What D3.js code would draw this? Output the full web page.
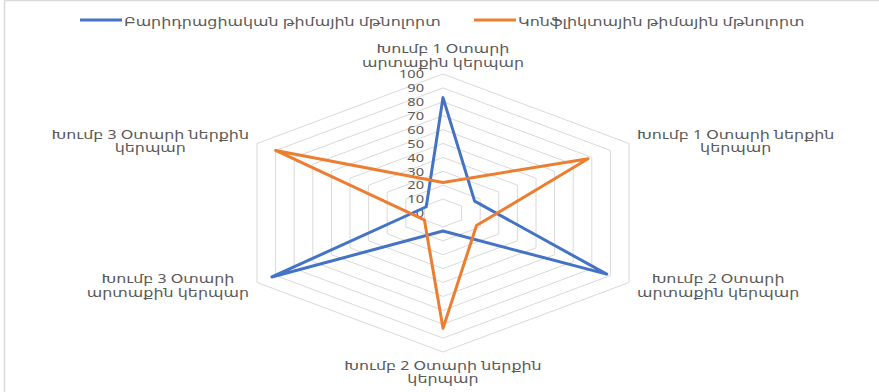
<!DOCTYPE html>
<html><head><meta charset="utf-8">
<script src="https://cdn.jsdelivr.net/npm/d3@7"></script>
<style>html,body{margin:0;padding:0;background:#fff;overflow:hidden}</style>
</head><body>
<svg id="c" width="879" height="392"></svg>
<script>
const categories = [
  ["Խումբ 1 Օտարի", "արտաքին կերպար"],
  ["Խումբ 1 Օտարի ներքին", "կերպար"],
  ["Խումբ 2 Օտարի", "արտաքին կերպար"],
  ["Խումբ 2 Օտարի ներքին", "կերպար"],
  ["Խումբ 3 Օտարի", "արտաքին կերպար"],
  ["Խումբ 3 Օտարի ներքին", "կերպար"]
];
const seriesNames = ["Բարիդրացիական թիմային մթնոլորտ", "Կոնֆլիկտային թիմային մթնոլորտ"];
const seriesBlue = [83, 17, 88, 13, 92, 9];
const seriesOrange = [22, 78, 18, 83, 10, 90];
const tickValues = [0, 10, 20, 30, 40, 50, 60, 70, 80, 90, 100];

const colors = ["#4472C4", "#ED7D31"];
const font = "'Noto Sans','DejaVu Sans',sans-serif";
const textColor = "#595959";

const svg = d3.select("#c");
svg.append("rect").attr("x", 4.5).attr("y", 0.5).attr("width", 900).attr("height", 400)
  .attr("fill", "#fff").attr("stroke", "#d9d9d9").attr("stroke-width", 1.5);

const cx = 443, cy = 213;
const ry = 139, rx = 186 / Math.cos(Math.PI / 6) ; // stretched horizontally
const r = d3.scaleLinear().domain([0, 100]).range([0, 1]);
const n = categories.length;
const ang = i => -Math.PI / 2 + i * 2 * Math.PI / n;
const pt = (i, v) => [cx + Math.cos(ang(i)) * r(v) * rx, cy + Math.sin(ang(i)) * r(v) * ry];

// measure scale for horizontal stretch of text
const meas = svg.append("text").attr("font-family", font).attr("font-size", 12).text(seriesNames[0]);
const SX = 317 / meas.node().getComputedTextLength();
meas.remove();

function stretchedText(g, x, y, str, size, anchor) {
  const t = g.append("text")
    .attr("transform", `translate(${x},${y}) scale(${SX},1)`)
    .attr("font-family", font).attr("font-size", size).attr("fill", textColor)
    .attr("text-anchor", anchor || "middle").attr("dominant-baseline", "central")
    .text(str);
  return t;
}

// grid
const grid = svg.append("g");
const line = d3.line();
tickValues.filter(v => v > 0).forEach(v => {
  const pts = d3.range(n).map(i => pt(i, v));
  grid.append("path").attr("d", line(pts) + "Z").attr("fill", "none")
    .attr("stroke", "#d9d9d9").attr("stroke-width", 1);
});

// tick labels
const tg = svg.append("g");
tickValues.forEach(v => {
  const p = pt(0, v);
  stretchedText(tg, cx - 19, p[1], String(v), 11, "end");
});

// series
[seriesBlue, seriesOrange].forEach((s, k) => {
  const pts = s.map((v, i) => pt(i, v));
  svg.append("path").attr("d", line(pts) + "Z").attr("fill", "none")
    .attr("stroke", colors[k]).attr("stroke-width", 3).attr("stroke-linejoin", "round");
});

// category labels
const lg = svg.append("g");
const lh = 13.5;
categories.forEach((lines, i) => {
  const v = pt(i, 100);
  const c = Math.cos(ang(i)), s = Math.sin(ang(i));
  const g = lg.append("g");
  const ts = lines.map(l => stretchedText(g, 0, 0, l, 12));
  const w = d3.max(ts.map(t => t.node().getComputedTextLength() * SX));
  let bx, by;
  if (Math.abs(c) < 0.01) {
    bx = v[0];
    by = s < 0 ? v[1] - 12 - lh * (lines.length - 1) / 2 - lh / 2 : v[1] + 14 + lh * (lines.length - 1) / 2 - lh / 2 + lh/2 - lh/2;
    if (s < 0) by = v[1] - 12 - lh / 2; else by = v[1] + 14 + lh / 2 - 1;
  } else {
    bx = v[0] + Math.sign(c) * (8 + w / 2);
    by = v[1] + (v[1] - cy) * 0.04;
  }
  ts.forEach((t, j) => {
    const y = by + (j - (lines.length - 1) / 2) * lh;
    t.attr("transform", `translate(${bx},${y}) scale(${SX},1)`);
  });
});

// legend
const leg = svg.append("g");
const legX = [80, 474];
seriesNames.forEach((name, k) => {
  leg.append("line").attr("x1", legX[k]).attr("x2", legX[k] + 42).attr("y1", 20).attr("y2", 20)
    .attr("stroke", colors[k]).attr("stroke-width", 3);
  stretchedText(leg, legX[k] + 44, 21, name, 12, "start");
});
</script>
</body></html>
